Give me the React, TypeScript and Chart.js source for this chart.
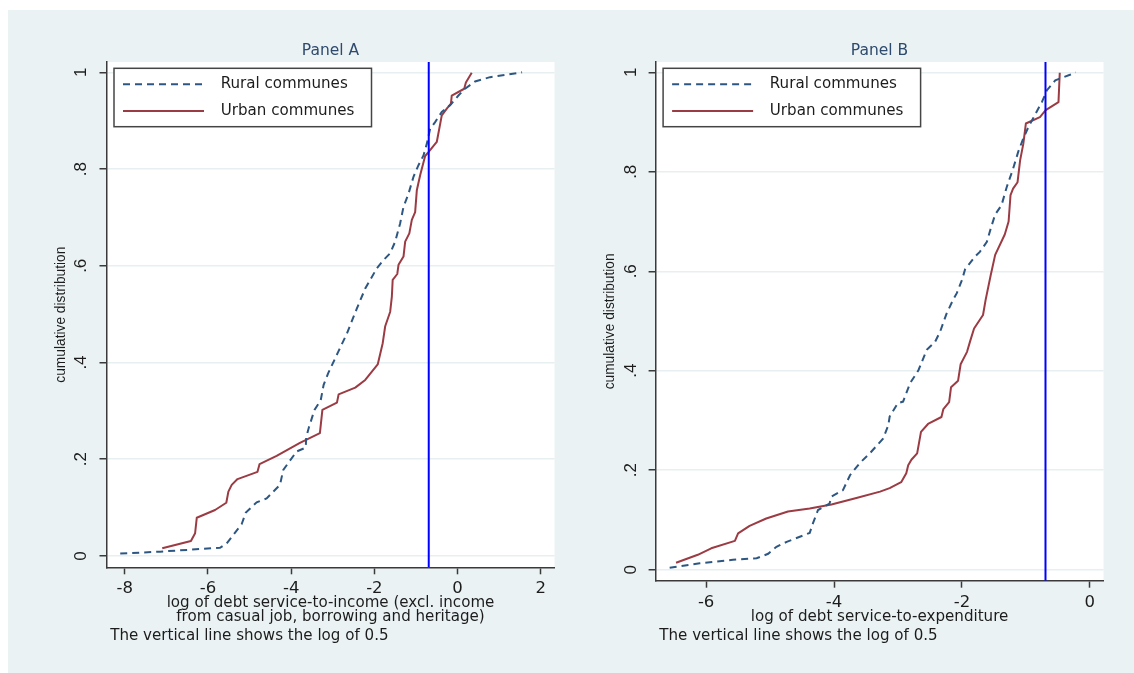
import React, { useEffect, useRef } from 'react';
import { Chart, registerables } from 'chart.js';

Chart.register(...registerables);

// ---------- data ----------
const ruralAX = [-8.11, -7.15, -5.71, -5.55, -5.19, -5.09, -4.83, -4.59, -4.27, -4.19, -3.87, -3.65, -3.64, -3.57, -3.44, -3.29, -3.22, -3.11, -2.87, -2.66, -2.42, -2.22, -1.94, -1.78, -1.62, -1.5, -1.38, -1.3, -1.18, -1.06, -0.94, -0.82, -0.74, -0.66, -0.54, -0.38, -0.18, 0.02, 0.18, 0.42, 0.78, 1.55];
const ruralAY = [0.005, 0.009, 0.017, 0.026, 0.066, 0.09, 0.111, 0.119, 0.147, 0.178, 0.216, 0.224, 0.245, 0.267, 0.302, 0.322, 0.354, 0.378, 0.422, 0.46, 0.512, 0.553, 0.595, 0.612, 0.626, 0.65, 0.688, 0.722, 0.749, 0.784, 0.808, 0.828, 0.852, 0.883, 0.897, 0.918, 0.932, 0.952, 0.966, 0.981, 0.99, 1.0];

const urbanAX = [-7.1, -6.41, -6.31, -6.27, -5.83, -5.56, -5.51, -5.43, -5.29, -4.81, -4.76, -4.35, -3.79, -3.31, -3.25, -2.9, -2.86, -2.46, -2.22, -1.92, -1.8, -1.74, -1.62, -1.58, -1.56, -1.45, -1.42, -1.3, -1.26, -1.16, -1.1, -1.02, -0.98, -0.9, -0.78, -0.7, -0.5, -0.38, -0.25, -0.16, -0.14, 0.16, 0.2, 0.34];
const urbanAY = [0.016, 0.031, 0.047, 0.079, 0.095, 0.11, 0.133, 0.147, 0.159, 0.174, 0.19, 0.207, 0.234, 0.254, 0.302, 0.317, 0.334, 0.348, 0.364, 0.396, 0.44, 0.475, 0.505, 0.536, 0.571, 0.583, 0.602, 0.619, 0.65, 0.667, 0.695, 0.711, 0.756, 0.787, 0.827, 0.835, 0.856, 0.911, 0.926, 0.935, 0.952, 0.966, 0.979, 0.999];

const ruralBX = [-6.57, -6.1, -5.58, -5.21, -5.03, -4.9, -4.74, -4.38, -4.33, -4.25, -4.07, -4.04, -3.86, -3.75, -3.6, -3.44, -3.23, -3.15, -3.13, -3.0, -2.92, -2.81, -2.68, -2.55, -2.42, -2.34, -2.24, -2.14, -2.08, -2.0, -1.95, -1.8, -1.72, -1.61, -1.54, -1.48, -1.38, -1.3, -1.2, -1.12, -1.04, -0.96, -0.86, -0.75, -0.67, -0.54, -0.31, -0.22];
const ruralBY = [0.004, 0.013, 0.02, 0.023, 0.032, 0.046, 0.056, 0.074, 0.093, 0.12, 0.133, 0.147, 0.16, 0.19, 0.214, 0.234, 0.264, 0.291, 0.308, 0.335, 0.338, 0.375, 0.401, 0.442, 0.458, 0.479, 0.515, 0.542, 0.556, 0.582, 0.604, 0.629, 0.639, 0.659, 0.69, 0.714, 0.733, 0.769, 0.806, 0.84, 0.867, 0.89, 0.914, 0.94, 0.964, 0.984, 0.995, 1.0];

const urbanBX = [-6.47, -6.13, -5.92, -5.55, -5.5, -5.32, -5.06, -4.72, -4.38, -4.04, -3.65, -3.28, -3.13, -2.95, -2.87, -2.84, -2.79, -2.7, -2.64, -2.53, -2.32, -2.29, -2.2, -2.17, -2.06, -2.02, -1.92, -1.87, -1.81, -1.67, -1.63, -1.55, -1.48, -1.33, -1.27, -1.24, -1.2, -1.13, -1.09, -1.04, -1.0, -0.78, -0.69, -0.49, -0.47];
const urbanBY = [0.014, 0.03, 0.043, 0.058, 0.073, 0.088, 0.103, 0.117, 0.123, 0.131, 0.144, 0.157, 0.164, 0.176, 0.194, 0.21, 0.221, 0.234, 0.277, 0.293, 0.307, 0.323, 0.337, 0.367, 0.38, 0.413, 0.438, 0.46, 0.485, 0.512, 0.542, 0.592, 0.633, 0.674, 0.7, 0.753, 0.766, 0.779, 0.823, 0.856, 0.897, 0.91, 0.924, 0.94, 0.999];

const xTicksA = [-8, -6, -4, -2, 0, 2];
const xTicksB = [-6, -4, -2, 0];
const yTicks = [0, 0.2, 0.4, 0.6, 0.8, 1];
const yTickLabels = ['0', '.2', '.4', '.6', '.8', '1'];
const seriesLabels = ['Rural communes', 'Urban communes'];
const panelTitles = ['Panel A', 'Panel B'];
const xTitleA = ['log of debt service-to-income (excl. income', 'from casual job, borrowing and heritage)'];
const xTitleB = 'log of debt service-to-expenditure';
const yTitle = 'cumulative distribution';
const noteText = 'The vertical line shows the log of 0.5';
const thresholdX = Math.log(0.5);

// ---------- style ----------
const BG = '#eaf2f3';
const SANS = '"DejaVu Sans", sans-serif';
const ARIAL = '"Liberation Sans", Arial, sans-serif';
const RURAL = '#2d5782';
const URBAN = '#9b3b43';
const AXIS = '#3a3a3a';
const TXT = '#1c1c1c';
const GRID = '#e7eff0';
const TITLE = '#2e4a6e';

type PanelCfg = {
  title: string;
  ruralX: number[]; ruralY: number[];
  urbanX: number[]; urbanY: number[];
  xMin: number; xMax: number; yMin: number; yMax: number;
  xTicks: number[];
  xTitle: string | string[];
  padRight: number; yAxisW: number; xAxisH: number; yTitlePad: number;
  width: number; left: number;
};

const panelA: PanelCfg = {
  title: panelTitles[0], ruralX: ruralAX, ruralY: ruralAY, urbanX: urbanAX, urbanY: urbanAY,
  xMin: -8.44, xMax: 2.33, yMin: -0.0234, yMax: 1.0213, xTicks: xTicksA, xTitle: xTitleA,
  padRight: 15.5, yAxisW: 98.5, xAxisH: 105.7, yTitlePad: 44.75, width: 562, left: 8,
};
const panelB: PanelCfg = {
  title: panelTitles[1], ruralX: ruralBX, ruralY: ruralBY, urbanX: urbanBX, urbanY: urbanBY,
  xMin: -6.79, xMax: 0.214, yMin: -0.0221, yMax: 1.0207, xTicks: xTicksB, xTitle: xTitleB,
  padRight: 30.5, yAxisW: 85.6, xAxisH: 92.3, yTitlePad: 31.85, width: 564, left: 570,
};

const H = 663;

function pts(xs: number[], ys: number[]) {
  return xs.map((x, i) => ({ x, y: ys[i] }));
}

function Panel({ cfg }: { cfg: PanelCfg }) {
  const ref = useRef<HTMLCanvasElement>(null);
  useEffect(() => {
    const canvas = ref.current!;
    const decor = {
      id: 'decor',
      beforeDraw(chart: any) {
        const { ctx, chartArea: a } = chart;
        ctx.save();
        ctx.fillStyle = '#ffffff';
        ctx.fillRect(a.left, a.top, a.right - a.left, a.bottom - a.top);
        ctx.restore();
      },
      afterDraw(chart: any) {
        const { ctx, chartArea: a } = chart;
        ctx.save();
        // panel title
        ctx.font = `15.5px ${SANS}`;
        ctx.fillStyle = TITLE;
        ctx.textAlign = 'center';
        ctx.textBaseline = 'middle';
        ctx.fillText(cfg.title, (a.left + a.right) / 2, a.top - 11.3);
        // note
        ctx.font = `15.1px ${SANS}`;
        ctx.fillStyle = TXT;
        ctx.textAlign = 'left';
        ctx.fillText(noteText, a.left + 3.7, chart.height - 36.5);
        // legend
        const bx = a.left + 7.5, by = a.top + 6.3, bw = 257.5, bh = 58.4;
        ctx.fillStyle = '#ffffff';
        ctx.fillRect(bx, by, bw, bh);
        ctx.strokeStyle = '#454545';
        ctx.lineWidth = 1.5;
        ctx.strokeRect(bx, by, bw, bh);
        const rows = [
          { y: by + 16, color: RURAL, dash: [7, 5], label: seriesLabels[0] },
          { y: by + 42.7, color: URBAN, dash: [], label: seriesLabels[1] },
        ];
        rows.forEach((r) => {
          ctx.beginPath();
          ctx.setLineDash(r.dash);
          ctx.strokeStyle = r.color;
          ctx.lineWidth = 2;
          ctx.moveTo(bx + 9, r.y);
          ctx.lineTo(bx + 90, r.y);
          ctx.stroke();
          ctx.setLineDash([]);
          ctx.fillStyle = TXT;
          ctx.font = `15.1px ${SANS}`;
          ctx.textAlign = 'left';
          ctx.textBaseline = 'middle';
          ctx.fillText(r.label, bx + 106.7, r.y);
        });
        ctx.restore();
      },
    };

    const chart = new Chart(canvas, {
      type: 'line',
      data: {
        datasets: [
          {
            label: 'log(0.5)',
            data: [{ x: thresholdX, y: cfg.yMin }, { x: thresholdX, y: cfg.yMax }],
            borderColor: '#0000ff', borderWidth: 2, pointRadius: 0,
          },
          {
            label: seriesLabels[0],
            data: pts(cfg.ruralX, cfg.ruralY),
            borderColor: RURAL, borderWidth: 2, borderDash: [7, 5], pointRadius: 0, tension: 0,
          },
          {
            label: seriesLabels[1],
            data: pts(cfg.urbanX, cfg.urbanY),
            borderColor: URBAN, borderWidth: 2, pointRadius: 0, tension: 0, borderJoinStyle: 'round',
          },
        ],
      },
      options: {
        animation: false,
        responsive: false,
        events: [],
        layout: { padding: { left: 0, top: 52, right: cfg.padRight, bottom: 0 } },
        plugins: { legend: { display: false }, tooltip: { enabled: false }, title: { display: false } },
        scales: {
          x: {
            type: 'linear', min: cfg.xMin, max: cfg.xMax, bounds: 'data',
            afterBuildTicks: (s: any) => { s.ticks = cfg.xTicks.map((v) => ({ value: v })); },
            afterFit: (s: any) => { s.height = cfg.xAxisH; },
            grid: { drawOnChartArea: false, drawTicks: true, tickLength: 7, tickColor: AXIS, tickWidth: 1.5 },
            border: { color: AXIS, width: 1.5 },
            ticks: {
              font: { family: SANS, size: 16.5 }, color: TXT, padding: 5,
              maxRotation: 0, minRotation: 0, autoSkip: false,
              callback: (v: any) => String(v),
            },
            title: {
              display: true, text: cfg.xTitle, color: TXT,
              font: { family: SANS, size: 15.1, lineHeight: 0.89 },
              padding: { top: 0, bottom: 49.6 },
            },
          },
          y: {
            type: 'linear', min: cfg.yMin, max: cfg.yMax, bounds: 'data',
            afterBuildTicks: (s: any) => { s.ticks = yTicks.map((v) => ({ value: v })); },
            afterFit: (s: any) => { s.width = cfg.yAxisW; },
            grid: { color: GRID, lineWidth: 1.5, drawTicks: true, tickLength: 7, tickColor: AXIS, tickWidth: 1.5 },
            border: { color: AXIS, width: 1.5 },
            ticks: {
              font: { family: ARIAL, size: 17 }, color: TXT, padding: 10.6,
              minRotation: 90, maxRotation: 90, crossAlign: 'center', autoSkip: false,
              callback: (_v: any, i: number) => yTickLabels[i],
            },
            title: {
              display: true, text: yTitle, color: TXT,
              font: { family: ARIAL, size: 13.75 },
              padding: { top: cfg.yTitlePad, bottom: 0 },
            },
          },
        },
      } as any,
      plugins: [decor],
    });
    return () => chart.destroy();
  }, [cfg]);

  return (
    <canvas
      ref={ref}
      width={cfg.width}
      height={H}
      style={{ position: 'absolute', left: cfg.left, top: 10, width: cfg.width, height: H, display: 'block' }}
    />
  );
}

export default function App() {
  return (
    <div style={{ position: 'absolute', left: 0, top: 0, width: 1134, height: 673, background: '#ffffff', overflow: 'hidden' }}>
      <div style={{ position: 'absolute', left: 8, top: 10, width: 1126, height: 663, background: BG }} />
      <Panel cfg={panelA} />
      <Panel cfg={panelB} />
    </div>
  );
}
